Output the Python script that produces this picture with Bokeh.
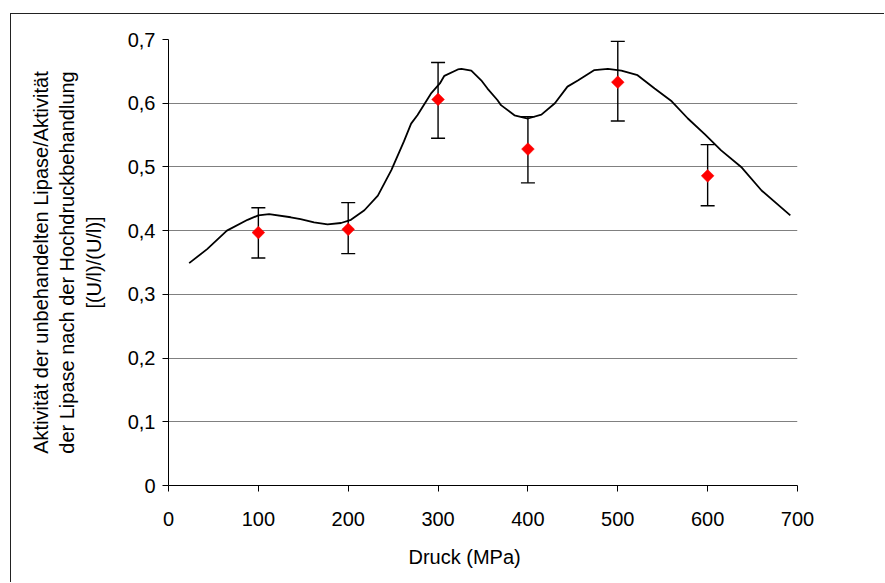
import math
from bokeh.plotting import figure
from bokeh.models import (Range1d, FixedTicker, CustomJSTickFormatter, Whisker,
                          ColumnDataSource, TeeHead, Title)
from bokeh.embed import file_html
from bokeh.resources import INLINE

# ---- data ----
pressure = [100, 200, 300, 400, 500, 600]
activity = [0.397, 0.402, 0.606, 0.528, 0.633, 0.486]
err_upper = [0.436, 0.444, 0.664, 0.579, 0.697, 0.535]
err_lower = [0.357, 0.364, 0.545, 0.475, 0.572, 0.439]

curve_x = [23, 43, 65, 88, 100, 112, 136, 147, 162, 177, 192, 203, 218, 233,
           248, 262, 270, 277, 292, 302, 307, 322, 326, 337, 348, 355, 366,
           370, 385, 400, 415, 430, 444, 456, 474, 489, 504, 522, 541, 560,
           578, 597, 615, 638, 660, 692]
curve_y = [0.349, 0.371, 0.400, 0.417, 0.424, 0.426, 0.421, 0.418, 0.413,
           0.410, 0.412, 0.417, 0.432, 0.455, 0.495, 0.540, 0.568, 0.581,
           0.615, 0.631, 0.643, 0.653, 0.654, 0.651, 0.636, 0.623, 0.605,
           0.597, 0.581, 0.576, 0.582, 0.600, 0.626, 0.636, 0.652, 0.654,
           0.651, 0.644, 0.623, 0.603, 0.576, 0.551, 0.526, 0.499, 0.463,
           0.424]

x_ticks = [0, 100, 200, 300, 400, 500, 600, 700]
y_ticks = [0, 0.1, 0.2, 0.3, 0.4, 0.5, 0.6, 0.7]

x_title = "Druck (MPa)"
y_title = ("Aktivität der unbehandelten Lipase/Aktivität\n"
           "der Lipase nach der Hochdruckbehandlung\n"
           "[(U/l)/(U/l)]")

FONT = "Liberation Sans"
FS = "20px"

p = figure(width=874, height=569, output_backend="svg", toolbar_location=None,
           x_range=Range1d(0, 700), y_range=Range1d(0, 0.7),
           min_border_left=157, min_border_right=88,
           min_border_top=25, min_border_bottom=98)
p.styles = {"margin-left": "10px", "margin-top": "13px",
            "border-left": "1px solid #222222", "border-top": "1px solid #222222"}
p.outline_line_color = None
p.background_fill_color = "white"
p.border_fill_color = "white"

p.xgrid.grid_line_color = None
p.ygrid.grid_line_color = "#808080"
p.ygrid.grid_line_width = 1

for ax in (p.xaxis[0], p.yaxis[0]):
    ax.axis_line_color = "#000000"
    ax.axis_line_width = 1
    ax.major_tick_line_color = "#000000"
    ax.major_tick_out = 6
    ax.major_tick_in = 0
    ax.minor_tick_line_color = None
    ax.major_label_text_font = FONT
    ax.major_label_text_font_size = FS
    ax.major_label_text_color = "#000000"
    ax.axis_label_text_font = FONT
    ax.axis_label_text_font_size = FS
    ax.axis_label_text_font_style = "normal"
    ax.axis_label_text_color = "#000000"

p.xaxis.ticker = FixedTicker(ticks=x_ticks)
p.yaxis.ticker = FixedTicker(ticks=y_ticks)
p.yaxis.formatter = CustomJSTickFormatter(
    code="return tick == 0 ? '0' : tick.toFixed(1).replace('.', ',');")
p.xaxis.major_label_standoff = 20
p.yaxis.major_label_standoff = 7
p.yaxis.axis_label = y_title
p.yaxis.axis_label_standoff = 20

p.add_layout(Title(text=x_title, align="left", offset=240, standoff=31,
                   text_font=FONT, text_font_size=FS, text_font_style="normal",
                   text_color="#000000"), "below")

# smooth curve
p.line(curve_x, curve_y, line_color="black", line_width=1.8, line_join="round")

# error bars
src = ColumnDataSource(dict(x=pressure, y=activity, upper=err_upper, lower=err_lower))
w = Whisker(source=src, base="x", upper="upper", lower="lower",
            line_color="black", line_width=1.4,
            upper_head=TeeHead(size=14, line_color="black", line_width=1.4),
            lower_head=TeeHead(size=14, line_color="black", line_width=1.4))
p.add_layout(w)

# red diamonds
p.scatter("x", "y", source=src, marker="square", size=9, angle=math.pi / 4,
          fill_color="#ff0000", line_color="#ff0000", line_width=0.5)

open("out.html", "w").write(file_html(p, INLINE))
